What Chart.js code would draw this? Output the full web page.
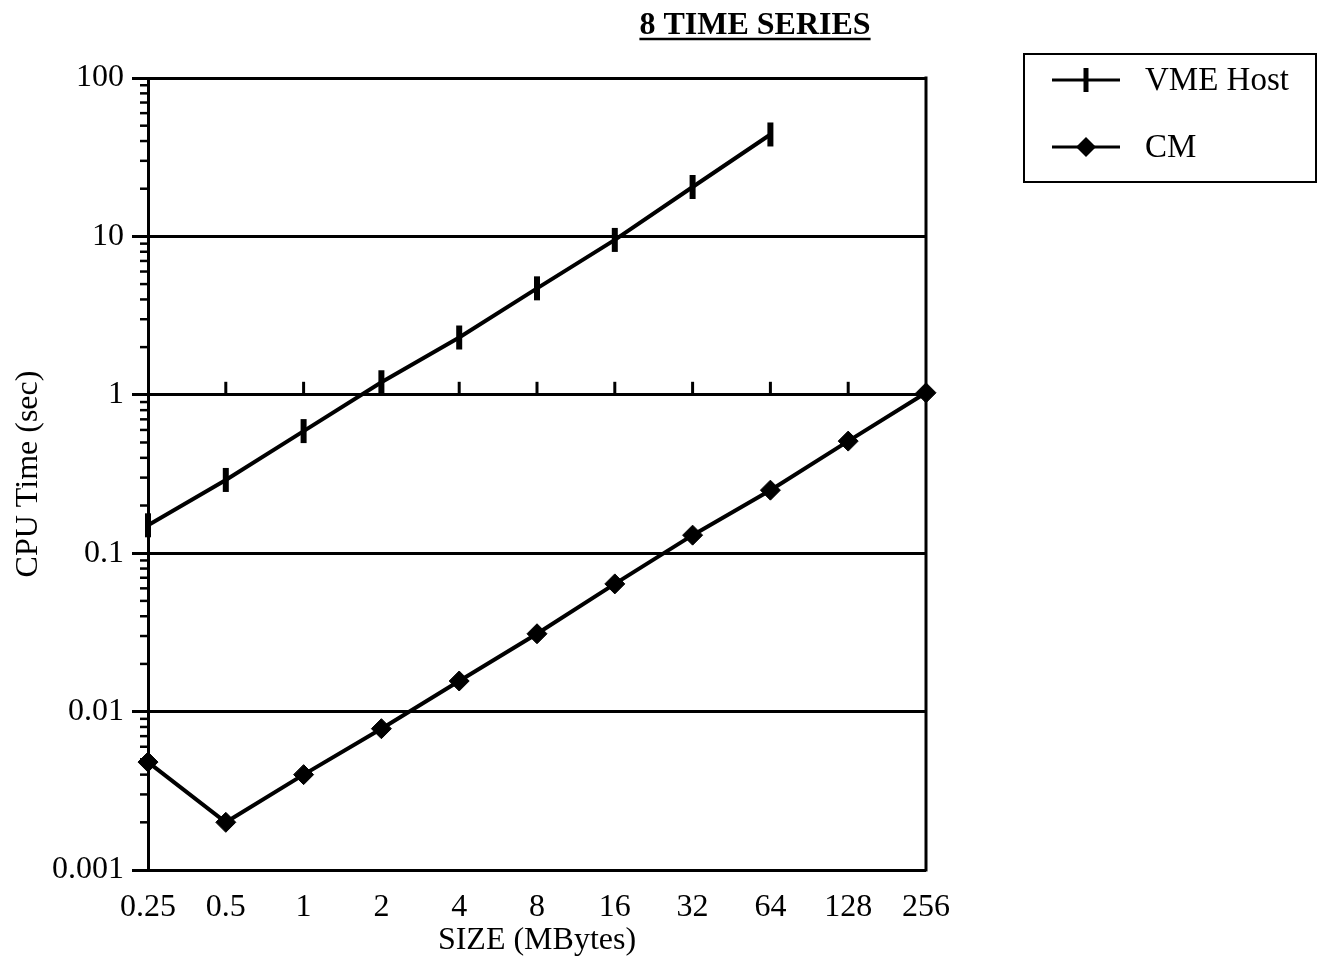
<!DOCTYPE html>
<html>
<head>
<meta charset="utf-8">
<script src="https://cdn.jsdelivr.net/npm/chart.js@4/dist/chart.umd.min.js"></script>
<style>
  html, body { margin: 0; padding: 0; background: #fff; }
  #c { display: block; }
</style>
</head>
<body>
<canvas id="c" width="1320" height="960"></canvas>
<script>
// ---- data ----
const sizes = ['0.25', '0.5', '1', '2', '4', '8', '16', '32', '64', '128', '256'];
const vmeHost = [0.15, 0.29, 0.59, 1.2, 2.3, 4.7, 9.5, 20.5, 44, null, null];
const cm = [0.0048, 0.002, 0.004, 0.0078, 0.0156, 0.031, 0.064, 0.13, 0.25, 0.51, 1.03];
const yTicks = [0.001, 0.01, 0.1, 1, 10, 100];
const yTickLabels = ['0.001', '0.01', '0.1', '1', '10', '100'];
const minorSteps = [2, 3, 4, 5, 6, 7, 8, 9];
const chartTitle = '8 TIME SERIES';
const xTitle = 'SIZE (MBytes)';
const yTitle = 'CPU Time (sec)';
const seriesNames = ['VME Host', 'CM'];

const FONT = "'Liberation Serif', 'Times New Roman', serif";
Chart.defaults.font.family = FONT;
Chart.defaults.font.size = 32;
Chart.defaults.color = '#000';

const decor = {
  id: 'decor',
  afterDraw(chart) {
    const ctx = chart.ctx;
    const ca = chart.chartArea;
    const xs = chart.scales.x, ys = chart.scales.y;
    ctx.save();
    ctx.strokeStyle = '#000';
    ctx.fillStyle = '#000';
    // right border
    ctx.lineWidth = 3;
    ctx.beginPath();
    ctx.moveTo(ca.right, ca.top - 1.5);
    ctx.lineTo(ca.right, ca.bottom + 1.5);
    ctx.stroke();
    // minor y ticks
    ctx.lineWidth = 2.5;
    for (let d = 0; d < yTicks.length - 1; d++) {
      for (const k of minorSteps) {
        const py = ys.getPixelForValue(yTicks[d] * k);
        ctx.beginPath();
        ctx.moveTo(ca.left - 8, py);
        ctx.lineTo(ca.left, py);
        ctx.stroke();
      }
    }
    // x ticks on the y=1 line
    const y1 = ys.getPixelForValue(1);
    ctx.lineWidth = 3;
    for (let i = 1; i < sizes.length - 1; i++) {
      const px = xs.getPixelForValue(i);
      ctx.beginPath();
      ctx.moveTo(px, y1);
      ctx.lineTo(px, y1 - 13);
      ctx.stroke();
    }
    // title
    ctx.font = 'bold 32px ' + FONT;
    ctx.textAlign = 'center';
    ctx.textBaseline = 'alphabetic';
    const tx = 755, ty = 34;
    ctx.fillText(chartTitle, tx, ty);
    const tw = ctx.measureText(chartTitle).width;
    ctx.lineWidth = 2.5;
    ctx.beginPath();
    ctx.moveTo(tx - tw / 2, ty + 5);
    ctx.lineTo(tx + tw / 2, ty + 5);
    ctx.stroke();
    // legend
    ctx.lineWidth = 2;
    ctx.strokeRect(1024, 54, 292, 128);
    const rows = [80, 147];
    ctx.font = '33px ' + FONT;
    ctx.textAlign = 'left';
    ctx.textBaseline = 'middle';
    rows.forEach((ry, i) => {
      ctx.lineWidth = 3;
      ctx.beginPath();
      ctx.moveTo(1052, ry);
      ctx.lineTo(1120, ry);
      ctx.stroke();
      if (i === 0) {
        ctx.lineWidth = 5;
        ctx.beginPath();
        ctx.moveTo(1086, ry - 12);
        ctx.lineTo(1086, ry + 12);
        ctx.stroke();
      } else {
        const r = 10;
        ctx.beginPath();
        ctx.moveTo(1086, ry - r);
        ctx.lineTo(1086 + r, ry);
        ctx.lineTo(1086, ry + r);
        ctx.lineTo(1086 - r, ry);
        ctx.closePath();
        ctx.fill();
      }
      ctx.fillText(seriesNames[i], 1145, ry + 1);
    });
    ctx.restore();
  }
};

new Chart(document.getElementById('c'), {
  type: 'line',
  data: {
    labels: sizes,
    datasets: [
      {
        label: seriesNames[0],
        data: vmeHost,
        borderColor: '#000',
        backgroundColor: '#000',
        borderWidth: 4,
        pointStyle: 'line',
        pointRotation: 90,
        pointRadius: 12,
        pointBorderWidth: 6,
        pointBorderColor: '#000',
        tension: 0,
        clip: false,
        spanGaps: false
      },
      {
        label: seriesNames[1],
        data: cm,
        borderColor: '#000',
        backgroundColor: '#000',
        borderWidth: 4,
        pointStyle: 'rectRot',
        pointRadius: 10,
        pointBorderWidth: 1,
        pointBackgroundColor: '#000',
        pointBorderColor: '#000',
        tension: 0,
        clip: false
      }
    ]
  },
  options: {
    responsive: false,
    animation: false,
    devicePixelRatio: 1,
    layout: { padding: { top: 78, right: 394, left: 0, bottom: 0 } },
    plugins: {
      legend: { display: false },
      tooltip: { enabled: false },
      title: { display: false }
    },
    scales: {
      x: {
        type: 'category',
        offset: false,
        grid: { display: false, drawTicks: false },
        border: { display: false },
        ticks: { autoSkip: false, maxRotation: 0, padding: 18, font: { size: 32 } },
        title: { display: true, text: xTitle, font: { size: 32 }, padding: { top: 0, bottom: 0 } },
        afterFit(scale) { scale.height = 90; }
      },
      y: {
        type: 'logarithmic',
        min: 0.001,
        max: 100,
        afterBuildTicks(scale) { scale.ticks = yTicks.map(v => ({ value: v })); },
        ticks: {
          autoSkip: false,
          padding: 8,
          font: { size: 32 },
          callback(value) {
            const i = yTicks.findIndex(t => Math.abs(t - value) / t < 1e-6);
            return i >= 0 ? yTickLabels[i] : '';
          }
        },
        grid: { color: '#000', lineWidth: 3, tickLength: 16, drawTicks: true },
        border: { display: true, color: '#000', width: 3 },
        title: { display: true, text: yTitle, font: { size: 32 }, padding: { top: 9, bottom: 0 } },
        afterFit(scale) { scale.width = 148; }
      }
    }
  },
  plugins: [decor]
});
</script>
</body>
</html>
